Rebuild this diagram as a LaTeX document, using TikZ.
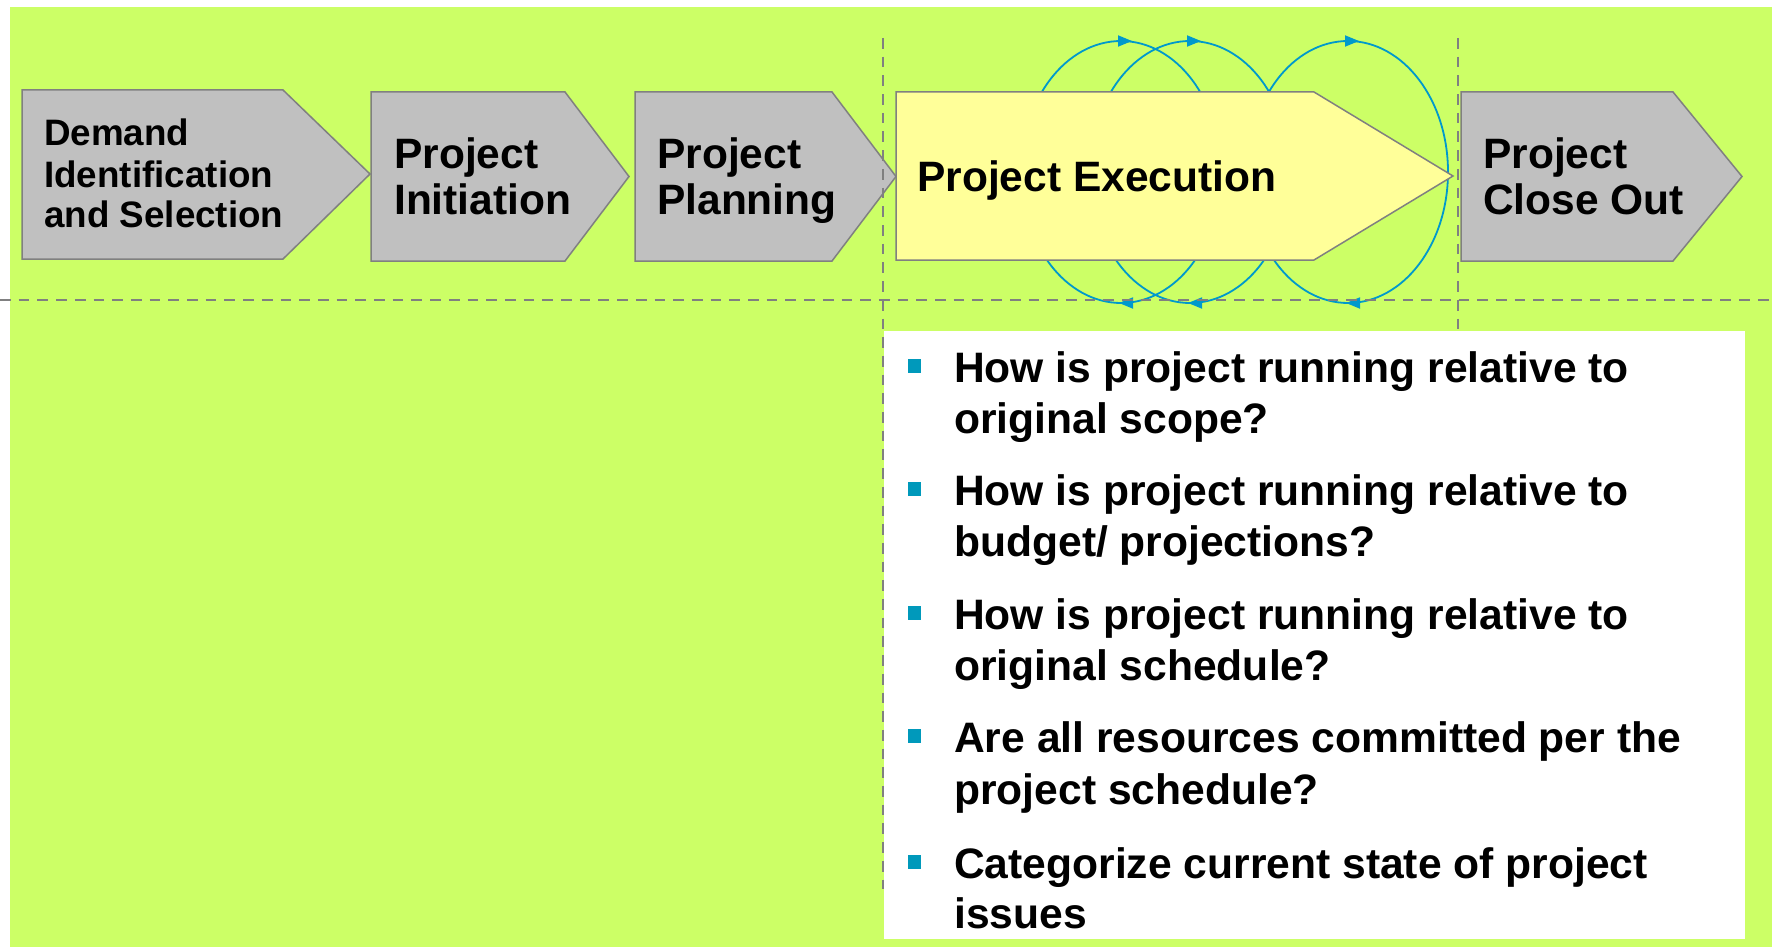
\documentclass[tikz,border=0pt]{standalone}
\usepackage{fontspec}
\setmainfont{Liberation Sans}
\usetikzlibrary{arrows.meta}
\definecolor{bggreen}{HTML}{CCFF66}
\definecolor{boxgray}{HTML}{C0C0C0}
\definecolor{edgegray}{HTML}{808080}
\definecolor{execyellow}{HTML}{FFFF99}
\definecolor{loopblue}{HTML}{0099CC}
\definecolor{bulletblue}{HTML}{0099BB}
\begin{document}
\begin{tikzpicture}[x=1pt,y=-1pt,
  chev/.style={draw=edgegray, line width=1.5pt, fill=boxgray, line join=miter},
  lbl/.style={font=\bfseries\fontsize{42.5}{46}\selectfont, anchor=base west, inner sep=0pt, text=black},
  smlbl/.style={font=\bfseries\fontsize{36.8}{40}\selectfont, anchor=base west, inner sep=0pt, text=black},
  guide/.style={draw=edgegray, line width=2.6pt, dash pattern=on 10.7pt off 8pt},
  loopline/.style={draw=loopblue, line width=1.8pt},
  looptip/.style={loopline, -{Triangle[length=14pt,width=11pt]}},
  btxt/.style={font=\bfseries\fontsize{42.6}{51}\selectfont, anchor=base west, inner sep=0pt, text=black},
  bsq/.style={fill=bulletblue, minimum size=13.5pt, inner sep=0pt, draw=none}
]
\useasboundingbox (0,0) rectangle (1772,947);
\fill[white] (0,0) rectangle (1772,947);
\fill[bggreen] (10,7) rectangle (1772,947);

% grey chevrons
\draw[chev] (22,90) -- (283,90) -- (370,174) -- (283,259) -- (22,259) -- cycle;
\draw[chev] (371,92) -- (565,92) -- (629,176.5) -- (565,261) -- (371,261) -- cycle;
\draw[chev] (635,92) -- (832,92) -- (896,176.5) -- (832,261) -- (635,261) -- cycle;
\draw[chev] (1461,92) -- (1673,92) -- (1742,176.5) -- (1673,261) -- (1461,261) -- cycle;

% iteration loops (behind the execution box)
\foreach \cx in {1121,1190,1348} {
  \draw[loopline] (\cx,172) ellipse [x radius=100pt, y radius=131pt];
  \draw[looptip] (\cx-4,41) -- (\cx+11,41);
  \draw[looptip] (\cx+11,303) -- (\cx-2,303);
}

% execution box
\draw[chev, fill=execyellow] (896,92) -- (1314,92) -- (1453,176) -- (1314,260) -- (896,260) -- cycle;

% labels
\node[smlbl] (dem1) at (44,146) {Demand};
\node[smlbl] (dem2) at (44,187) {Identification};
\node[smlbl] (dem3) at (44,227) {and Selection};
\node[lbl] (ini1) at (394,168) {Project};
\node[lbl] (ini2) at (394,214) {Initiation};
\node[lbl] (pla1) at (657,168) {Project};
\node[lbl] (pla2) at (657,214) {Planning};
\node[lbl] (exe) at (917,191) {Project Execution};
\node[lbl] (clo1) at (1483,168) {Project};
\node[lbl] (clo2) at (1483,214) {Close Out};

% guide lines
\draw[guide] (0,300) -- (1772,300);
\draw[guide] (883,38) -- (883,889);
\draw[guide] (1458,38) -- (1458,331);

% question panel
\fill[white] (884,331) rectangle (1745,939);
\node[bsq] (b1) at (914.5,366) {};
\node[btxt] (t1a) at (954,382) {How is project running relative to};
\node[btxt] (t1b) at (954,433) {original scope?};
\node[bsq] (b2) at (914.5,489) {};
\node[btxt] (t2a) at (954,505) {How is project running relative to};
\node[btxt] (t2b) at (954,556) {budget/ projections?};
\node[bsq] (b3) at (914.5,613) {};
\node[btxt] (t3a) at (954,629) {How is project running relative to};
\node[btxt] (t3b) at (954,680) {original schedule?};
\node[bsq] (b4) at (914.5,736) {};
\node[btxt] (t4a) at (954,752) {Are all resources committed per the};
\node[btxt] (t4b) at (954,804) {project schedule?};
\node[bsq] (b5) at (914.5,862) {};
\node[btxt] (t5a) at (954,878) {Categorize current state of project};
\node[btxt] (t5b) at (954,928) {issues};
\end{tikzpicture}
\end{document}
